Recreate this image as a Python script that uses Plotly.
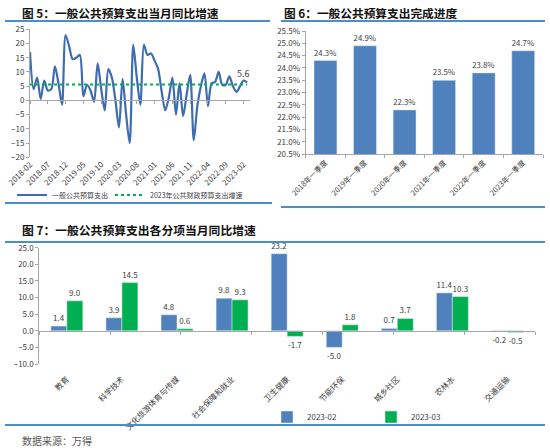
import plotly.graph_objects as go

# ---- data: chart 5 (monthly yoy growth of general public budget expenditure)
months = [f"{y}-{m:02d}" for y in range(2018, 2024) for m in range(1, 13)]
months = months[months.index("2018-02"):months.index("2023-03") + 1]
spend_yoy = [17, 4, 8, 0.5, 7, 3.5, 4, 12, 6, -1.5,
             23, 19, 14.5, 15, 16, 1.5, 5.5, 3.5, -0.5, 13,
             4, -3.5, 11, 8, 0, -9.5, 7.5, -5, -15, 19.5,
             8, -1.5, 19.5, 16, 16.5, 14, 11, 3, -3.5, 1,
             8, -5, 6, -5.5, 2, 9, -14, -2, 5, 9.5,
             -2, 6, 6.5, 10, 5.5, 5.5, 8.5, 5, 3, 5,
             7, 6.3]
budget_2023 = 5.6

# ---- data: chart 6 (Q1 completion progress, %)
quarters = ["2018年一季度", "2019年一季度", "2020年一季度",
            "2021年一季度", "2022年一季度", "2023年一季度"]
progress = [24.3, 24.9, 22.3, 23.5, 23.8, 24.7]

# ---- data: chart 7 (yoy growth by item)
items = ["教育", "科学技术", "文化旅游体育与传媒", "社会保障和就业", "卫生健康",
         "节能环保", "城乡社区", "农林水", "交通运输"]
feb_2023 = [1.4, 3.9, 4.8, 9.8, 23.2, -5.0, 0.7, 11.4, -0.2]
mar_2023 = [9.0, 14.5, 0.6, 9.3, -1.7, 1.8, 3.7, 10.3, -0.5]

W, H = 550, 448
FONT = "Noto Sans CJK SC"
BLUE = "#4F81BD"
LINE_BLUE = "#3E6DAF"
GREEN = "#00B050"
RULE = "#4A8FC6"
AX = "#A6A6A6"
TXT = "#404040"


def px(x0, x1):
    return [x0 / W, x1 / W]


def py(top, bottom):
    return [1 - bottom / H, 1 - top / H]


idx = list(range(len(months)))
tick_idx = idx[::5]

fig = go.Figure()

# chart 5
fig.add_trace(go.Scatter(x=idx, y=spend_yoy, mode="lines", name="一般公共预算支出",
                         line=dict(color=LINE_BLUE, width=2.2, shape="spline", smoothing=0.8),
                         xaxis="x", yaxis="y", legend="legend"))
fig.add_trace(go.Scatter(x=idx, y=[budget_2023] * len(idx), mode="lines",
                         name="2023年公共财政预算支出增速",
                         line=dict(color=GREEN, width=1.8, dash="dot"),
                         xaxis="x", yaxis="y", legend="legend3"))
fig.add_trace(go.Scatter(x=[], y=[], xaxis="x4", yaxis="y", showlegend=False))

# chart 6
fig.add_trace(go.Bar(x=quarters, y=progress, marker_color=BLUE, showlegend=False,
                     text=[f"{v:.1f}%" for v in progress], textposition="outside",
                     textfont=dict(size=8, color=TXT), cliponaxis=False,
                     xaxis="x2", yaxis="y2"))

# chart 7
fig.add_trace(go.Bar(x=items, y=feb_2023, name="2023-02", marker_color=BLUE,
                     texttemplate="%{y:.1f}", textposition="outside",
                     textfont=dict(size=8, color=TXT), cliponaxis=False,
                     xaxis="x3", yaxis="y3", legend="legend2"))
fig.add_trace(go.Bar(x=items, y=mar_2023, name="2023-03", marker_color=GREEN,
                     texttemplate="%{y:.1f}", textposition="outside",
                     textfont=dict(size=8, color=TXT), cliponaxis=False,
                     xaxis="x3", yaxis="y3", legend="legend2"))
fig.add_trace(go.Scatter(x=[], y=[], xaxis="x5", yaxis="y3", showlegend=False))

y1dom = py(29.3, 157.3)
y3dom = py(247.7, 364)
zero1 = y1dom[0] + 20 / 45 * (y1dom[1] - y1dom[0])
zero3 = y3dom[0] + 10 / 35 * (y3dom[1] - y3dom[0])

tickfont = dict(size=8, color=TXT)
rng1 = [0, 61.8]
leg_common = dict(orientation="h", xanchor="left", yanchor="middle",
                  itemwidth=30, bgcolor="rgba(0,0,0,0)")

fig.update_layout(
    width=W, height=H,
    margin=dict(l=0, r=0, t=0, b=0),
    paper_bgcolor="white", plot_bgcolor="white",
    font=dict(family=FONT, color=TXT),
    barmode="group",
    bargap=0.42, bargroupgap=0,
    xaxis=dict(domain=px(30, 250), anchor="y", range=rng1, tickvals=tick_idx,
               ticktext=[months[i] for i in tick_idx], tickangle=-45, tickfont=tickfont,
               showline=False, ticks="", showgrid=False, zeroline=False, automargin=False),
    xaxis4=dict(overlaying="x", anchor="free", position=zero1, range=rng1, tickvals=tick_idx,
                showticklabels=False, showline=True, linecolor=AX, linewidth=1,
                ticks="outside", ticklen=3, tickcolor=AX, showgrid=False, zeroline=False),
    yaxis=dict(domain=y1dom, anchor="x", range=[-20, 25], dtick=5, tickfont=tickfont,
               showline=True, linecolor=AX, ticks="outside", ticklen=3, tickcolor=AX,
               showgrid=False, zeroline=False, automargin=False),
    xaxis2=dict(domain=px(305.7, 543), anchor="y2", tickangle=-45,
                tickfont=dict(size=7.5, color=TXT),
                showline=True, linecolor=AX, ticks="outside", ticklen=3, tickcolor=AX,
                tickson="boundaries", showgrid=False, automargin=False),
    yaxis2=dict(domain=py(31, 154.3), anchor="x2", range=[20.5, 25.5], dtick=0.5,
                tickformat=".1f", ticksuffix="%", tickfont=tickfont, showline=True,
                linecolor=AX, ticks="outside", ticklen=3, tickcolor=AX,
                showgrid=False, zeroline=False, automargin=False),
    xaxis3=dict(domain=px(39.3, 535), anchor="y3", tickangle=-45, tickfont=tickfont,
                ticklabelstandoff=8,
                showline=False, ticks="", showgrid=False, automargin=False),
    xaxis5=dict(overlaying="x3", anchor="free", position=zero3, tickson="boundaries",
                showticklabels=False, showline=True, linecolor=AX, ticks="outside",
                ticklen=3, tickcolor=AX, showgrid=False, zeroline=False),
    yaxis3=dict(domain=y3dom, anchor="x3", range=[-10, 25], dtick=5, tickformat=".1f",
                tickfont=tickfont, showline=True, linecolor=AX, ticks="outside",
                ticklen=3, tickcolor=AX, showgrid=False, zeroline=False, automargin=False),
    legend=dict(x=12 / W, y=1 - 195 / H, font=dict(size=7, color=TXT), **leg_common),
    legend3=dict(x=110 / W, y=1 - 195 / H, font=dict(size=7, color=TXT), **leg_common),
    legend2=dict(x=267 / W, y=1 - 417 / H, font=dict(size=8, color=TXT), entrywidth=59,
                 **leg_common),
)

titles = [("图 5：一般公共预算支出当月同比增速", 20, 12, 11.7),
          ("图 6：一般公共预算支出完成进度", 282, 12, 11.7),
          ("图 7：一般公共预算支出各分项当月同比增速", 20, 230, 11.8)]
for text, x, y, size in titles:
    fig.add_annotation(text=f"<b>{text}</b>", x=x / W, y=1 - y / H, xref="paper", yref="paper",
                       xanchor="left", yanchor="middle", showarrow=False,
                       font=dict(family=FONT, size=size, color="#111111"))

fig.add_annotation(text="5.6", x=idx[-2], y=budget_2023, xref="x", yref="y",
                   yshift=11, showarrow=False, font=dict(size=9, color=TXT))
fig.add_annotation(text="数据来源：万得", x=20 / W, y=1 - 440 / H, xref="paper", yref="paper",
                   xanchor="left", yanchor="middle", showarrow=False,
                   font=dict(size=10, color="#555555"))

# blue rules around the panels
rules = [(5, 270, 21), (281, 545, 21), (5, 272, 203), (281, 545, 207),
         (5, 545, 242), (5, 545, 425)]
for x0, x1, y in rules:
    fig.add_shape(type="line", xref="paper", yref="paper", x0=x0 / W, x1=x1 / W,
                  y0=1 - y / H, y1=1 - y / H, line=dict(color=RULE, width=2))

fig.write_html("out.html", config={"displayModeBar": False},
               post_script="document.body.style.margin='0';")
